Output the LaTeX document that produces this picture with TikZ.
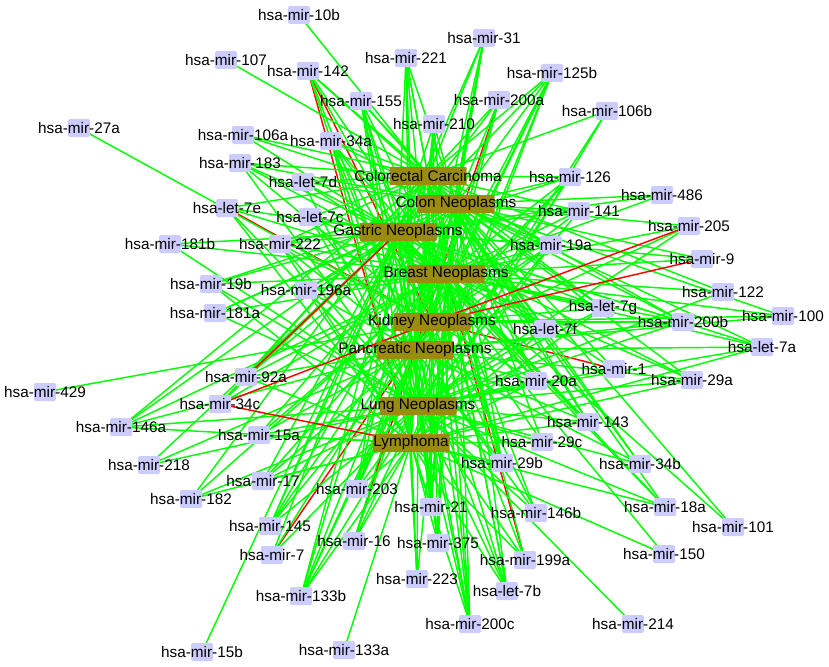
\documentclass[tikz,border=0pt]{standalone}
\usepackage{fontspec}
\setmainfont{Liberation Sans}
\usetikzlibrary{backgrounds}
\definecolor{lav}{RGB}{204,204,255}
\definecolor{olive}{RGB}{155,140,15}
\definecolor{gline}{RGB}{0,255,0}
\definecolor{rline}{RGB}{255,0,0}
\tikzset{
  mir/.style={rectangle,fill=lav,draw=none,rounded corners=2pt,minimum width=22pt,minimum height=18pt,inner sep=0pt},
  dis/.style={rectangle,fill=olive,draw=none,rounded corners=1pt,minimum width=77pt,minimum height=18pt,inner sep=0pt},
  lbl/.style={inner sep=0pt,font=\fontsize{15.3}{17}\selectfont,text=black},
  gedge/.style={draw=gline,line width=1.45pt},
  redge/.style={draw=rline,line width=1.45pt},
}
\newcommand{\mirn}[3]{\node[mir,label={[lbl]center:#3}] (#1) at (#2) {};}
\newcommand{\disn}[3]{\node[dis,label={[lbl]center:#3}] (#1) at (#2) {};}
\begin{document}
\begin{tikzpicture}[x=1pt,y=-1pt]
\useasboundingbox (0,0) rectangle (829,666);
% diseases
\disn{CC}{428,176}{Colorectal Carcinoma}
\disn{CN}{456,204}{Colon Neoplasms}
\disn{GN}{398,232}{Gastric Neoplasms}
\disn{BN}{446,274}{Breast Neoplasms}
\disn{KN}{432,322}{Kidney Neoplasms}
\disn{PN}{415,350}{Pancreatic Neoplasms}
\disn{LN}{418,406}{Lung Neoplasms}
\disn{LY}{411,443}{Lymphoma}
% miRNAs
\mirn{m10b}{299,15}{hsa-mir-10b}
\mirn{m107}{226,60}{hsa-mir-107}
\mirn{m142}{308,71}{hsa-mir-142}
\mirn{m221}{406,58}{hsa-mir-221}
\mirn{m31}{484,38}{hsa-mir-31}
\mirn{m125b}{552,73}{hsa-mir-125b}
\mirn{m155}{361,101}{hsa-mir-155}
\mirn{m200a}{499,100}{hsa-mir-200a}
\mirn{m210}{434,124}{hsa-mir-210}
\mirn{m106b}{607,111}{hsa-mir-106b}
\mirn{m106a}{243,135}{hsa-mir-106a}
\mirn{m34a}{331,141}{hsa-mir-34a}
\mirn{m183}{240,163}{hsa-mir-183}
\mirn{ml7d}{303,182}{hsa-let-7d}
\mirn{ml7e}{227,208}{hsa-let-7e}
\mirn{ml7c}{310,217}{hsa-let-7c}
\mirn{m126}{570,177}{hsa-mir-126}
\mirn{m486}{662,195}{hsa-mir-486}
\mirn{m141}{579,211}{hsa-mir-141}
\mirn{m205}{689,226}{hsa-mir-205}
\mirn{m181b}{170,244}{hsa-mir-181b}
\mirn{m222}{280,244}{hsa-mir-222}
\mirn{m19a}{551,245}{hsa-mir-19a}
\mirn{m9}{702,259}{hsa-mir-9}
\mirn{m19b}{211,284}{hsa-mir-19b}
\mirn{m196a}{306,290}{hsa-mir-196a}
\mirn{m122}{723,292}{hsa-mir-122}
\mirn{m181a}{215,313}{hsa-mir-181a}
\mirn{ml7g}{603,308}{hsa-let-7g}
\mirn{m100}{783,316}{hsa-mir-100}
\mirn{m200b}{683,322}{hsa-mir-200b}
\mirn{ml7f}{545,329}{hsa-let-7f}
\mirn{ml7a}{762,347}{hsa-let-7a}
\mirn{m1}{614,369}{hsa-mir-1}
\mirn{m29a}{692,380}{hsa-mir-29a}
\mirn{m20a}{536,381}{hsa-mir-20a}
\mirn{m92a}{246,377}{hsa-mir-92a}
\mirn{m429}{45,392}{hsa-mir-429}
\mirn{m34c}{220,404}{hsa-mir-34c}
\mirn{m146a}{121,427}{hsa-mir-146a}
\mirn{m15a}{259,435}{hsa-mir-15a}
\mirn{m143}{588,422}{hsa-mir-143}
\mirn{m29c}{542,442}{hsa-mir-29c}
\mirn{m218}{149,465}{hsa-mir-218}
\mirn{m17}{263,481}{hsa-mir-17}
\mirn{m182}{191,499}{hsa-mir-182}
\mirn{m203}{357,489}{hsa-mir-203}
\mirn{m29b}{502,463}{hsa-mir-29b}
\mirn{m34b}{640,464}{hsa-mir-34b}
\mirn{m18a}{665,507}{hsa-mir-18a}
\mirn{m101}{733,527}{hsa-mir-101}
\mirn{m145}{270,526}{hsa-mir-145}
\mirn{m21}{431,507}{hsa-mir-21}
\mirn{m146b}{536,513}{hsa-mir-146b}
\mirn{m16}{354,541}{hsa-mir-16}
\mirn{m7}{272,555}{hsa-mir-7}
\mirn{m375}{438,543}{hsa-mir-375}
\mirn{m150}{664,554}{hsa-mir-150}
\mirn{m199a}{525,560}{hsa-mir-199a}
\mirn{m133b}{301,596}{hsa-mir-133b}
\mirn{m223}{417,579}{hsa-mir-223}
\mirn{ml7b}{507,591}{hsa-let-7b}
\mirn{m200c}{470,624}{hsa-mir-200c}
\mirn{m214}{633,624}{hsa-mir-214}
\mirn{m15b}{202,652}{hsa-mir-15b}
\mirn{m133a}{344,650}{hsa-mir-133a}
\mirn{m27a}{79,128}{hsa-mir-27a}
% edges
\begin{scope}[on background layer]
\foreach \m/\ds in {m142/{KN,LY},m200a/{PN},ml7e/{KN},m1/{KN},m199a/{BN},m7/{KN},m16/{PN}}
  {\foreach \d in \ds {\draw[redge] (\m.center) -- (\d.center);}}
\foreach \m/\ds in {
 m10b/{CC}, m107/{CC}, m142/{CC,CN,GN,BN,PN,LN}, m155/{CC,CN,GN,BN,KN,PN,LN,LY},
 m221/{CC,CN,GN,BN,KN,PN,LN,LY}, m31/{CC,CN,GN,BN,KN,PN,LN}, m125b/{CC,CN,GN,BN,KN,PN,LN,LY},
 m200a/{CC,CN,GN,BN,KN,LN}, m210/{CC,CN,GN,BN,KN,PN,LN,LY}, m106b/{CC,LN,LY},
 m106a/{CC,CN,GN}, m34a/{CC,CN,GN,BN,KN,PN,LN,LY}, m183/{CC,CN,GN,BN,KN,LN},
 ml7d/{CC,CN,GN,BN,LN}, ml7e/{CC,GN,BN,LN,LY}, ml7c/{CC,GN,BN,PN,LN},
 m126/{CC,CN,GN,BN,KN,PN,LN}, m486/{CN,GN,BN}, m141/{CC,CN,GN,BN,KN,LN},
 m205/{CN,BN,PN,LN}, m181b/{GN,BN,LN}, m222/{CC,CN,GN,BN,KN,PN,LN,LY},
 m19a/{CC,CN,GN,BN,KN,PN,LN,LY}, m9/{CN,GN,BN}, m19b/{CN,GN,BN,LN,LY},
 m196a/{CN,GN,BN,PN,LN,LY}, m122/{CC,BN,LN}, m181a/{CN,GN,BN,LN},
 ml7g/{CC,CN,GN,BN,KN,LN,LY}, m200b/{CC,CN,GN,BN,KN,PN,LN}, m100/{CN,BN,KN,PN},
 ml7f/{CC,CN,GN,BN,LN,LY}, ml7a/{CN,GN,BN,PN,LN,LY}, m92a/{CC,CN,BN,PN,LY},
 m1/{CN,GN,LN}, m29a/{CN,GN,BN,PN,LN,LY}, m20a/{CC,CN,GN,BN,KN,PN,LN,LY},
 m429/{KN}, m34c/{CC,GN,BN}, m146a/{CC,GN,BN,PN,LN,LY}, m15a/{CN,BN,PN,LN,LY},
 m143/{CC,CN,GN,BN,PN,LN,LY}, m29c/{CN,GN,LN,LY}, m218/{GN,PN,LN}, m182/{CC,BN,LN,LY},
 m17/{CC,BN,PN,LN,LY}, m203/{CC,CN,GN,BN,KN,PN,LN,LY}, m29b/{CC,CN,GN,BN,PN,LN,LY},
 m34b/{CC,CN,PN,LN}, m18a/{CC,GN,BN,LN,LY}, m101/{CN,BN},
 m145/{CC,CN,GN,BN,PN,LN}, m21/{CC,CN,GN,BN,KN,PN,LN,LY}, m146b/{GN,BN,PN,LN},
 m7/{GN,BN,LN}, m16/{CN,BN,LN,LY}, m375/{CC,CN,GN,BN,PN,LN,LY}, m150/{GN,LY},
 m199a/{CC,GN,LN,LY}, m133b/{CC,CN,GN,KN,PN,LN,LY}, m223/{CN,GN,LN,LY},
 ml7b/{CC,CN,GN,BN,PN,LN,LY}, m200c/{CC,CN,GN,BN,KN,PN,LN,LY}, m214/{LN}, m15b/{GN},
 m133a/{LY}, m27a/{KN}}
  {\foreach \d in \ds {\draw[gedge] (\m.center) -- (\d.center);}}
\foreach \m/\ds in {m205/{KN},m9/{KN},m34c/{KN,LY},m92a/{GN}}
  {\foreach \d in \ds {\draw[redge] (\m.center) -- (\d.center);}}
\end{scope}
\end{tikzpicture}
\end{document}
